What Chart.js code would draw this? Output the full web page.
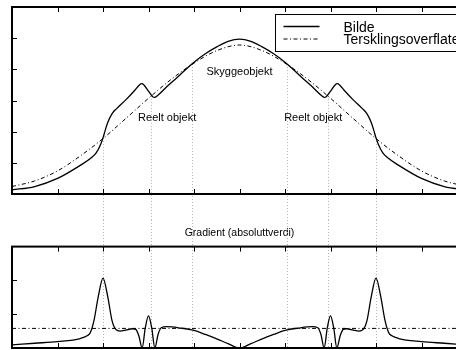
<!DOCTYPE html>
<html>
<head>
<meta charset="utf-8">
<script src="https://cdn.jsdelivr.net/npm/chart.js@4/dist/chart.umd.min.js"></script>
<style>
  html, body { margin: 0; padding: 0; background: #fff; overflow: hidden; }
  #wrap { position: relative; width: 456px; height: 350px; overflow: hidden; background: #fff; }
  canvas { position: absolute; left: 0; }
  #topp { top: 0; }
  #grad { top: 220px; }
</style>
</head>
<body>
<div id="wrap">
  <canvas id="topp" width="480" height="220"></canvas>
  <canvas id="grad" width="480" height="130"></canvas>
</div>
<script>
// Intensity profile across the image ("Bilde")
const bildeX = [0, 0.5, 1.0, 1.5, 1.75, 1.85, 1.95, 2.0, 2.05, 2.1, 2.2, 2.3, 2.5, 2.7, 2.8, 2.85, 2.9, 3.0, 3.1, 3.13, 3.2, 3.4, 3.6, 3.8, 4.0, 4.25, 4.5, 4.75, 5.0,
                5.25, 5.5, 5.75, 6.0, 6.2, 6.4, 6.6, 6.8, 6.87, 6.9, 7.0, 7.1, 7.15, 7.2, 7.3, 7.5, 7.7, 7.8, 7.9, 7.95, 8.0, 8.05, 8.15, 8.25, 8.5, 9.0, 9.5, 10];
const bildeY = [0.13, 0.24, 0.50, 0.92, 1.17, 1.32, 1.60, 1.80, 2.05, 2.28, 2.58, 2.74, 3.02, 3.33, 3.50, 3.54, 3.50, 3.30, 3.11, 3.10, 3.16, 3.44, 3.70, 3.97, 4.23, 4.50, 4.72, 4.90, 4.97,
                4.90, 4.72, 4.50, 4.23, 3.97, 3.70, 3.44, 3.16, 3.10, 3.11, 3.30, 3.50, 3.54, 3.50, 3.33, 3.02, 2.74, 2.58, 2.28, 2.05, 1.80, 1.60, 1.32, 1.17, 0.92, 0.50, 0.24, 0.13];

// Smooth threshold surface ("Tersklingsoverflate")
const terskelX = [0, 0.5, 1, 1.5, 2, 2.5, 3, 3.5, 4, 4.5, 5, 5.5, 6, 6.5, 7, 7.5, 8, 8.5, 9, 9.5, 10];
const terskelY = [0.24, 0.42, 0.74, 1.22, 1.78, 2.42, 3.07, 3.68, 4.20, 4.60, 4.78, 4.60, 4.20, 3.68, 3.07, 2.42, 1.78, 1.22, 0.74, 0.42, 0.24];

// Absolute gradient of the profile
const gradX = [0, 0.5, 1.0, 1.5, 1.65, 1.72, 1.8, 1.9, 2.0, 2.1, 2.2, 2.28, 2.38, 2.5, 2.65, 2.72, 2.79, 2.86, 2.93, 3.0, 3.07, 3.14, 3.21, 3.28, 3.4, 3.7, 4.0, 4.25, 4.5, 4.75, 5.0,
               5.25, 5.5, 5.75, 6.0, 6.3, 6.6, 6.72, 6.79, 6.86, 6.93, 7.0, 7.07, 7.14, 7.21, 7.28, 7.35, 7.5, 7.62, 7.72, 7.8, 7.9, 8.0, 8.1, 8.2, 8.28, 8.35, 8.5, 9.0, 9.5, 10];
const gradY = [0.09, 0.14, 0.19, 0.28, 0.36, 0.45, 0.80, 1.55, 2.07, 1.55, 0.80, 0.55, 0.50, 0.53, 0.57, 0.55, 0.35, 0.00, 0.60, 0.95, 0.60, 0.00, 0.40, 0.60, 0.63, 0.59, 0.52, 0.40, 0.27, 0.13, 0.00,
               0.13, 0.27, 0.40, 0.52, 0.59, 0.63, 0.60, 0.40, 0.00, 0.60, 0.95, 0.60, 0.00, 0.35, 0.55, 0.57, 0.53, 0.50, 0.55, 0.80, 1.55, 2.07, 1.55, 0.80, 0.45, 0.36, 0.28, 0.19, 0.14, 0.09];

// Gradient threshold level
const terskelGradient = 0.58;

// Object edge positions (dotted guides) and the profile level where each guide starts
const kantX = [2, 3.05, 3.95, 6.05, 6.95, 8];
const kantY = [1.80, 3.15, 4.17, 4.17, 3.15, 1.80];

// Text annotations in the upper panel
const etikettTekst = ['Skyggeobjekt', 'Reelt objekt', 'Reelt objekt'];
const etikettX = [5, 3.41, 6.62];
const etikettY = [3.91, 2.44, 2.44];

// Tick positions
const xTicks = [1, 2, 3, 4, 5, 6, 7, 8, 9];
const yTicksTopp = [1, 2, 3, 4, 5];
const yTicksGrad = [1, 2];

const FONT = '"Liberation Sans", Arial, Helvetica, sans-serif';
Chart.defaults.font.family = FONT;
Chart.defaults.color = '#000';

const DASHDOT = [4, 2.5, 1, 2.5];

const pts = (xs, ys) => xs.map((x, i) => ({ x, y: ys[i] }));

// Box frame with inward ticks on every side
const ramme = {
  id: 'ramme',
  afterDatasetsDraw(chart, args, opts) {
    const { ctx, chartArea: a, scales: { x, y } } = chart;
    ctx.save();
    ctx.strokeStyle = '#000';
    ctx.lineWidth = 1;
    ctx.setLineDash([]);
    ctx.beginPath();
    for (const v of xTicks) {
      const px = Math.round(x.getPixelForValue(v)) + 0.5;
      ctx.moveTo(px, a.top); ctx.lineTo(px, a.top + 5);
      ctx.moveTo(px, a.bottom); ctx.lineTo(px, a.bottom - 5);
    }
    for (const v of opts.yTicks) {
      const py = Math.round(y.getPixelForValue(v)) + 0.5;
      ctx.moveTo(a.left, py); ctx.lineTo(a.left + 5, py);
      ctx.moveTo(a.right, py); ctx.lineTo(a.right - 5, py);
    }
    ctx.stroke();
    ctx.lineWidth = 2;
    ctx.strokeRect(a.left, a.top, a.right - a.left, a.bottom - a.top);
    ctx.restore();
  }
};

// Dotted guides at the object edges, running down through both panels
const kantlinjer = {
  id: 'kantlinjer',
  beforeDatasetsDraw(chart, args, opts) {
    const { ctx, chartArea: a, scales: { x, y } } = chart;
    ctx.save();
    ctx.strokeStyle = '#b4b4b4';
    ctx.lineWidth = 1;
    ctx.setLineDash([1, 2]);
    ctx.beginPath();
    kantX.forEach((v, i) => {
      const px = Math.round(x.getPixelForValue(v)) + 0.5;
      const y0 = opts.fraKurve ? y.getPixelForValue(kantY[i]) : 0;
      const y1 = opts.fraKurve ? chart.height : a.bottom;
      ctx.moveTo(px, y0);
      ctx.lineTo(px, y1);
    });
    ctx.stroke();
    ctx.restore();
  }
};

// Object labels inside the upper panel
const etiketter = {
  id: 'etiketter',
  afterDatasetsDraw(chart) {
    const { ctx, scales: { x, y } } = chart;
    ctx.save();
    ctx.fillStyle = '#000';
    ctx.font = '11px ' + FONT;
    ctx.textAlign = 'center';
    ctx.textBaseline = 'middle';
    etikettTekst.forEach((t, i) => {
      ctx.fillText(t, x.getPixelForValue(etikettX[i]), y.getPixelForValue(etikettY[i]));
    });
    ctx.restore();
  }
};

// Boxed legend in the upper right corner
const forklaring = {
  id: 'forklaring',
  afterDraw(chart) {
    const { ctx, chartArea: a } = chart;
    const x0 = a.left + 263.5, y0 = a.top + 7.5;
    const x1 = a.right - 4.5, y1 = y0 + 37;
    ctx.save();
    ctx.fillStyle = '#fff';
    ctx.fillRect(x0, y0, x1 - x0, y1 - y0);
    ctx.strokeStyle = '#000';
    ctx.lineWidth = 1;
    ctx.setLineDash([]);
    ctx.strokeRect(x0, y0, x1 - x0, y1 - y0);
    const rader = [{ ly: y0 + 12, ty: y0 + 17.5 }, { ly: y0 + 24.5, ty: y0 + 29 }];
    chart.data.datasets.forEach((ds, i) => {
      const r = rader[i];
      ctx.strokeStyle = ds.borderColor;
      ctx.lineWidth = ds.borderWidth;
      ctx.setLineDash(ds.borderDash || []);
      ctx.beginPath();
      ctx.moveTo(x0 + 8, r.ly);
      ctx.lineTo(x0 + 44, r.ly);
      ctx.stroke();
      ctx.setLineDash([]);
      ctx.fillStyle = '#000';
      ctx.font = '14px ' + FONT;
      ctx.textAlign = 'left';
      ctx.textBaseline = 'alphabetic';
      ctx.fillText(ds.label, x0 + 68, r.ty);
    });
    ctx.restore();
  }
};

const felles = {
  responsive: false,
  animation: false,
  devicePixelRatio: 1,
  events: [],
};

new Chart(document.getElementById('topp'), {
  type: 'line',
  data: {
    datasets: [
      { label: 'Bilde', data: pts(bildeX, bildeY), borderColor: '#000', borderWidth: 1.3,
        pointRadius: 0, cubicInterpolationMode: 'monotone', fill: false },
      { label: 'Tersklingsoverflate', data: pts(terskelX, terskelY), borderColor: '#000', borderWidth: 1,
        borderDash: DASHDOT, pointRadius: 0, cubicInterpolationMode: 'monotone', fill: false }
    ]
  },
  options: {
    ...felles,
    layout: { padding: { left: 12, top: 7, right: 13, bottom: 26 } },
    scales: {
      x: { type: 'linear', min: 0, max: 10, display: false },
      y: { min: 0, max: 6, display: false }
    },
    plugins: {
      legend: { display: false },
      tooltip: { enabled: false },
      title: { display: false },
      ramme: { yTicks: yTicksTopp },
      kantlinjer: { fraKurve: true }
    }
  },
  plugins: [kantlinjer, ramme, etiketter, forklaring]
});

new Chart(document.getElementById('grad'), {
  type: 'line',
  data: {
    datasets: [
      { label: 'Gradient', data: pts(gradX, gradY), borderColor: '#000', borderWidth: 1.3,
        pointRadius: 0, cubicInterpolationMode: 'monotone', fill: false },
      { label: 'Terskel', data: [{ x: 0, y: terskelGradient }, { x: 10, y: terskelGradient }],
        borderColor: '#000', borderWidth: 1, borderDash: DASHDOT, pointRadius: 0, fill: false }
    ]
  },
  options: {
    ...felles,
    layout: { padding: { left: 12, top: 0, right: 13, bottom: 2 } },
    scales: {
      x: { type: 'linear', min: 0, max: 10, display: false },
      y: { min: 0, max: 3, display: false }
    },
    plugins: {
      legend: { display: false },
      tooltip: { enabled: false },
      title: {
        display: true,
        text: 'Gradient (absoluttverdi)',
        color: '#000',
        font: { size: 10.5, weight: 'normal', family: FONT },
        padding: { top: 7, bottom: 7 }
      },
      ramme: { yTicks: yTicksGrad },
      kantlinjer: { fraKurve: false }
    }
  },
  plugins: [kantlinjer, ramme]
});
</script>
</body>
</html>
